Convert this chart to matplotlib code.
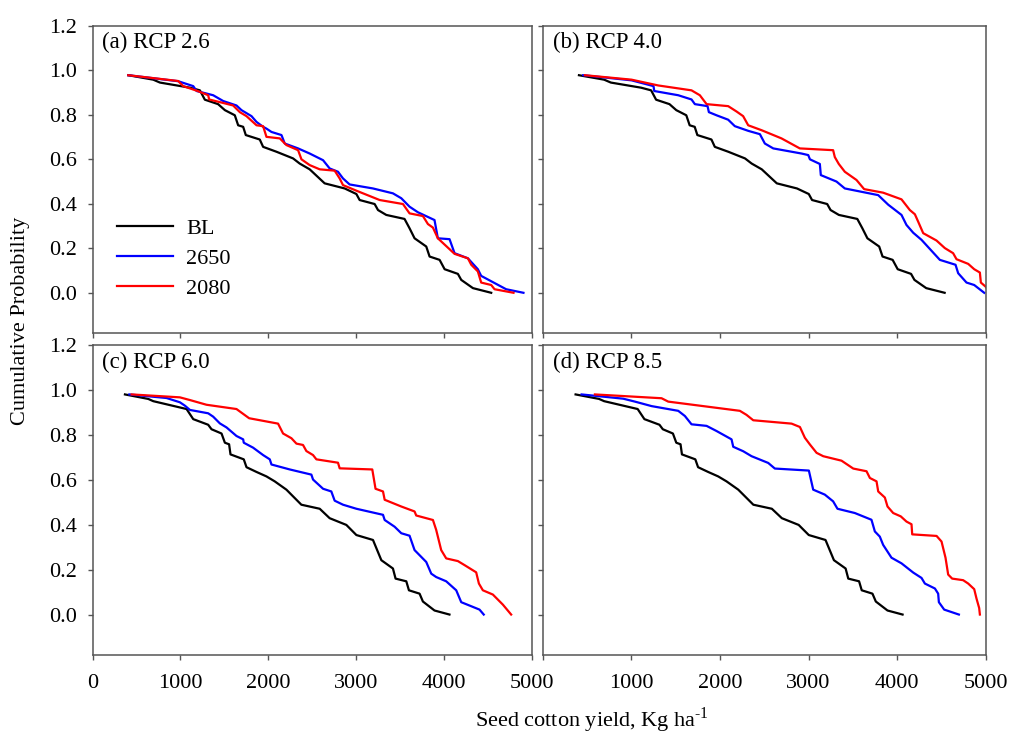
import numpy as np
import matplotlib
matplotlib.use("Agg")
import matplotlib.pyplot as plt

# ---- data (yield kg/ha, cumulative probability) ----
bl_top_x = [407, 691, 767, 1108, 1222, 1278, 1429, 1506, 1619, 1657, 1714, 1744, 1903, 1941,
            2093, 2282, 2357, 2471, 2641, 2869, 3002, 3039, 3210, 3248, 3342, 3550, 3607,
            3664, 3797, 3835, 3949, 4006, 4157, 4195, 4328, 4536]
bl_top_y = [0.978, 0.958, 0.945, 0.922, 0.910, 0.868, 0.848, 0.821, 0.798, 0.753, 0.746, 0.709,
            0.689, 0.656, 0.634, 0.604, 0.581, 0.555, 0.492, 0.469, 0.444, 0.417, 0.399, 0.372,
            0.350, 0.332, 0.290, 0.245, 0.208, 0.163, 0.148, 0.106, 0.085, 0.058, 0.021, 0.0]

bl_bot_x = [369, 634, 691, 1070, 1146, 1316, 1354, 1468, 1506, 1554, 1570, 1721, 1752, 1865,
            1979, 2073, 2206, 2376, 2585, 2698, 2888, 3002, 3191, 3286, 3418, 3448, 3570,
            3600, 3721, 3759, 3891, 4061]
bl_bot_y = [0.98, 0.960, 0.950, 0.915, 0.870, 0.845, 0.825, 0.806, 0.765, 0.758, 0.713, 0.691,
            0.656, 0.635, 0.615, 0.593, 0.556, 0.489, 0.471, 0.429, 0.399, 0.354, 0.332, 0.242,
            0.205, 0.160, 0.148, 0.108, 0.093, 0.058, 0.018, 0.0]

a_2650_x = [407, 975, 1146, 1184, 1373, 1487, 1638, 1695, 1809, 1866, 1941, 1979, 2036, 2150,
            2187, 2339, 2471, 2623, 2698, 2793, 2850, 2925, 3191, 3418, 3513, 3607, 3702,
            3891, 3929, 4062, 4119, 4271, 4384, 4422, 4706, 4903]
a_2650_y = [0.978, 0.951, 0.929, 0.907, 0.888, 0.862, 0.842, 0.821, 0.794, 0.768, 0.746, 0.738,
            0.723, 0.709, 0.671, 0.649, 0.626, 0.596, 0.559, 0.544, 0.514, 0.487, 0.469, 0.447,
            0.425, 0.387, 0.362, 0.327, 0.245, 0.241, 0.178, 0.155, 0.106, 0.076, 0.016, 0.0]
a_2080_x = [407, 975, 1032, 1203, 1316, 1327, 1600, 1676, 1752, 1866, 1941, 1979, 2131, 2206,
            2339, 2377, 2471, 2585, 2755, 2812, 2850, 3002, 3267, 3532, 3607, 3759, 3816,
            3873, 3929, 4119, 4271, 4309, 4384, 4422, 4536, 4574, 4790]
a_2080_y = [0.978, 0.952, 0.929, 0.906, 0.888, 0.869, 0.842, 0.812, 0.794, 0.753, 0.749, 0.701,
            0.694, 0.664, 0.641, 0.600, 0.574, 0.555, 0.549, 0.514, 0.484, 0.459, 0.417, 0.399,
            0.357, 0.345, 0.309, 0.293, 0.245, 0.175, 0.155, 0.126, 0.096, 0.046, 0.035, 0.016, 0.0]

b_2650_x = [455, 1001, 1249, 1257, 1528, 1678, 1716, 1859, 1874, 1960, 2092, 2167, 2318, 2450,
            2506, 2601, 2920, 2996, 3015, 3127, 3138, 3315, 3409, 3786, 3899, 4049, 4105,
            4181, 4275, 4482, 4659, 4689, 4783, 4870, 4983]
b_2650_y = [0.978, 0.955, 0.929, 0.907, 0.888, 0.869, 0.848, 0.839, 0.812, 0.798, 0.778, 0.749,
            0.728, 0.713, 0.671, 0.649, 0.626, 0.619, 0.600, 0.579, 0.529, 0.500, 0.469, 0.439,
            0.396, 0.350, 0.305, 0.270, 0.238, 0.148, 0.126, 0.088, 0.046, 0.035, 0.0]
b_2080_x = [474, 1001, 1302, 1678, 1772, 1848, 2092, 2186, 2261, 2318, 2468, 2694, 2901, 3277,
            3296, 3341, 3409, 3541, 3627, 3842, 4049, 4143, 4200, 4237, 4294, 4444, 4538,
            4632, 4670, 4802, 4870, 4934, 4945, 4998, 5050]
b_2080_y = [0.978, 0.958, 0.932, 0.910, 0.888, 0.848, 0.839, 0.815, 0.794, 0.753, 0.731, 0.694,
            0.649, 0.641, 0.610, 0.579, 0.544, 0.507, 0.466, 0.450, 0.420, 0.372, 0.353, 0.320,
            0.268, 0.235, 0.201, 0.178, 0.151, 0.130, 0.106, 0.091, 0.046, 0.028, 0.0]

c_2650_x = [419, 843, 994, 1051, 1108, 1316, 1373, 1449, 1525, 1638, 1714, 1721, 1827, 1941,
            2017, 2036, 2244, 2490, 2509, 2623, 2717, 2755, 2850, 3002, 3305, 3324, 3437,
            3513, 3607, 3664, 3797, 3854, 3910, 4024, 4138, 4195, 4290, 4403, 4451]
c_2650_y = [0.98, 0.964, 0.945, 0.930, 0.911, 0.896, 0.881, 0.851, 0.833, 0.795, 0.780, 0.765,
            0.743, 0.710, 0.691, 0.668, 0.646, 0.623, 0.601, 0.560, 0.548, 0.507, 0.489, 0.471,
            0.444, 0.421, 0.391, 0.362, 0.351, 0.287, 0.234, 0.182, 0.167, 0.148, 0.108, 0.055,
            0.040, 0.022, 0.0]
c_2080_x = [445, 994, 1108, 1297, 1638, 1782, 2111, 2168, 2263, 2320, 2395, 2433, 2509, 2547,
            2793, 2812, 3183, 3220, 3305, 3324, 3513, 3664, 3683, 3873, 3910, 3967, 4024,
            4157, 4233, 4365, 4396, 4441, 4555, 4669, 4763]
c_2080_y = [0.98, 0.967, 0.955, 0.934, 0.915, 0.874, 0.850, 0.806, 0.785, 0.761, 0.755, 0.728,
            0.710, 0.691, 0.676, 0.651, 0.646, 0.560, 0.548, 0.511, 0.481, 0.459, 0.441, 0.421,
            0.377, 0.287, 0.250, 0.238, 0.220, 0.188, 0.138, 0.108, 0.089, 0.044, 0.0]

d_2650_x = [437, 907, 1039, 1227, 1528, 1603, 1678, 1848, 1961, 2130, 2149, 2262, 2356, 2544,
            2619, 3003, 3052, 3183, 3277, 3326, 3522, 3710, 3748, 3804, 3842, 3936, 4049,
            4181, 4275, 4313, 4426, 4463, 4471, 4531, 4697]
d_2650_y = [0.98, 0.961, 0.948, 0.928, 0.907, 0.884, 0.847, 0.840, 0.817, 0.780, 0.747, 0.727,
            0.705, 0.675, 0.650, 0.641, 0.556, 0.534, 0.504, 0.471, 0.452, 0.422, 0.370, 0.347,
            0.310, 0.253, 0.228, 0.187, 0.163, 0.138, 0.116, 0.093, 0.055, 0.022, 0.0]
d_2080_x = [587, 1340, 1415, 2224, 2299, 2375, 2808, 2902, 2958, 3015, 3090, 3165, 3372, 3504,
            3654, 3692, 3767, 3786, 3861, 3891, 3955, 4041, 4105, 4162, 4170, 4445, 4501,
            4546, 4576, 4621, 4745, 4802, 4870, 4896, 4926, 4934]
d_2080_y = [0.98, 0.963, 0.948, 0.907, 0.889, 0.865, 0.850, 0.835, 0.787, 0.757, 0.720, 0.705,
            0.685, 0.650, 0.638, 0.608, 0.593, 0.548, 0.521, 0.481, 0.452, 0.437, 0.414, 0.402,
            0.357, 0.350, 0.325, 0.253, 0.178, 0.160, 0.153, 0.138, 0.113, 0.071, 0.029, 0.0]

panel_titles = ["(a) RCP 2.6", "(b) RCP 4.0", "(c) RCP 6.0", "(d) RCP 8.5"]
series_names = ["BL", "2650", "2080"]
series_colors = ["black", "blue", "red"]

panels = [
    [(bl_top_x, bl_top_y), (a_2650_x, a_2650_y), (a_2080_x, a_2080_y)],
    [(bl_top_x, bl_top_y), (b_2650_x, b_2650_y), (b_2080_x, b_2080_y)],
    [(bl_bot_x, bl_bot_y), (c_2650_x, c_2650_y), (c_2080_x, c_2080_y)],
    [(bl_bot_x, bl_bot_y), (d_2650_x, d_2650_y), (d_2080_x, d_2080_y)],
]

x_ticks = [0, 1000, 2000, 3000, 4000, 5000]
y_ticks = [0.0, 0.2, 0.4, 0.6, 0.8, 1.0, 1.2]

plt.rcParams["font.family"] = ["Liberation Serif", "DejaVu Serif"]
plt.rcParams["mathtext.fontset"] = "custom"
plt.rcParams["mathtext.rm"] = "Liberation Serif"

fig = plt.figure(figsize=(10.11, 7.38), dpi=100)

# axes rectangles in figure fraction
rects = [
    (0.0915, 0.549, 0.4347, 0.416),
    (0.537, 0.549, 0.438, 0.416),
    (0.0915, 0.1125, 0.4347, 0.420),
    (0.537, 0.1125, 0.438, 0.420),
]
spine_col = "#555555"

for i, (rect, curves) in enumerate(zip(rects, panels)):
    ax = fig.add_axes(rect)
    for (xs, ys), name, col in zip(curves, series_names, series_colors):
        ax.plot(xs, ys, color=col, lw=1.6, label=name, solid_joinstyle="round")
    ax.set_xlim(0, 5000)
    ax.set_ylim(-0.18, 1.2)
    ax.set_xticks(x_ticks)
    ax.set_yticks(y_ticks)
    for s in ax.spines.values():
        s.set_color(spine_col)
        s.set_linewidth(1.1)
    ax.tick_params(direction="out", length=3.5, width=1.0, color=spine_col,
                   labelsize=16)
    ax.tick_params(axis="x", pad=10)
    ax.tick_params(axis="y", pad=8)
    if i in (0, 2):
        ax.set_yticklabels([f"{v:.1f}" for v in y_ticks])
    else:
        ax.set_yticklabels([])
    if i == 2:
        ax.set_xticklabels([str(v) for v in x_ticks])
    elif i == 3:
        ax.set_xticklabels([""] + [str(v) for v in x_ticks[1:]])
    else:
        ax.set_xticklabels([])
    ax.text(0.022, 0.945, panel_titles[i], transform=ax.transAxes,
            fontsize=16.5, va="center", ha="left")
    if i == 0:
        ax.legend(loc="upper left", bbox_to_anchor=(0.056, 0.372), frameon=False,
                  fontsize=16, handlelength=2.5, handletextpad=0.6,
                  labelspacing=0.42, borderpad=0, borderaxespad=0)

fig.text(0.02, 0.565, "Cumulative Probability", rotation=90, fontsize=16,
         ha="center", va="center")
fig.text(0.585, 0.015, "Seed cotton yield, Kg ha$^{\\mathregular{\u20101}}$", fontsize=16,
         ha="center", va="baseline")

fig.savefig("out.png", dpi=100)
